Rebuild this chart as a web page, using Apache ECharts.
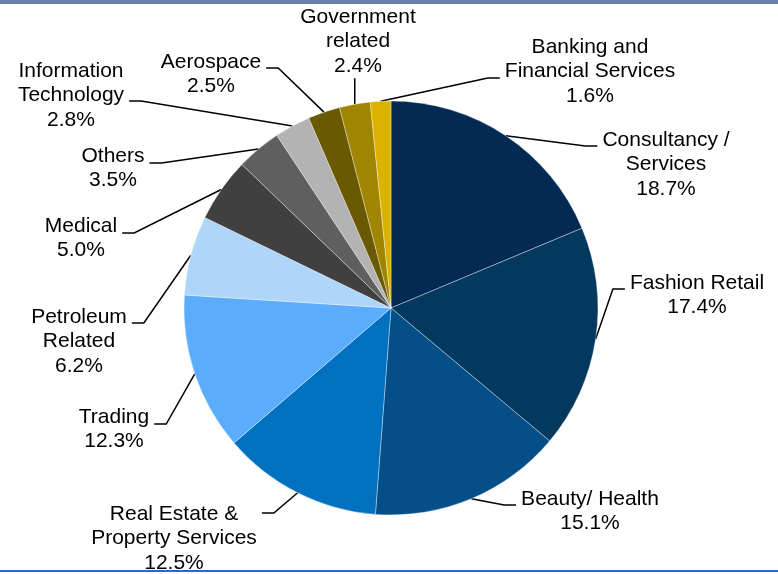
<!DOCTYPE html>
<html>
<head>
<meta charset="utf-8">
<script src="https://cdn.jsdelivr.net/npm/echarts@6.0.0/dist/echarts.min.js"></script>
<style>
  html, body { margin: 0; padding: 0; background: #ffffff; }
  #chart { width: 778px; height: 574px; }
</style>
</head>
<body>
<div id="chart"></div>
<script>
// Client sectors and their share of the total (%)
const sectors = [
  'Consultancy /\nServices',
  'Fashion Retail',
  'Beauty/ Health',
  'Real Estate &\nProperty Services',
  'Trading',
  'Petroleum\nRelated',
  'Medical',
  'Others',
  'Information\nTechnology',
  'Aerospace',
  'Government\nrelated',
  'Banking and\nFinancial Services'
];
const shares = [18.7, 17.4, 15.1, 12.5, 12.3, 6.2, 5.0, 3.5, 2.8, 2.5, 2.4, 1.6];

const sliceColors = [
  '#022a52', '#03385f', '#044f88', '#0070c0', '#5badfc', '#aed6fb',
  '#404040', '#5f5f5f', '#b3b3b3', '#695900', '#9f8500', '#dcb200'
];

const FONT_SIZE = 21;
const LINE_H = 24.5;

// Where each callout sits: centre x, centre y of its first line,
// the side its leader line enters from and the height of the leader's short horizontal run.
const labelSpots = [
  { cx: 666, y: 140, side: 'left',  ly: 146 },
  { cx: 697, y: 283, side: 'left',  ly: 289 },
  { cx: 590, y: 499, side: 'left',  ly: 505 },
  { cx: 174, y: 514, side: 'right', ly: 513 },
  { cx: 114, y: 417, side: 'right', ly: 424 },
  { cx: 79,  y: 317, side: 'right', ly: 323 },
  { cx: 81,  y: 226, side: 'right', ly: 233 },
  { cx: 113, y: 156, side: 'right', ly: 163 },
  { cx: 71,  y: 71,  side: 'right', ly: 101 },
  { cx: 211, y: 62,  side: 'right', ly: 68 },
  { cx: 358, y: 17,  side: 'bottom' },
  { cx: 590, y: 47,  side: 'left',  ly: 78 }
];

const PIE_CENTER = [391, 308];
const PIE_RADIUS = 207;

// Fallback anchor on the rim at the middle of a slice
function rimPoint(index) {
  const total = shares.reduce((a, b) => a + b, 0);
  let before = 0;
  for (let i = 0; i < index; i++) before += shares[i];
  const mid = (before + shares[index] / 2) / total * 2 * Math.PI;
  return [PIE_CENTER[0] + PIE_RADIUS * Math.sin(mid), PIE_CENTER[1] - PIE_RADIUS * Math.cos(mid)];
}

const chart = echarts.init(document.getElementById('chart'), null, { renderer: 'canvas' });

chart.setOption({
  animation: false,
  backgroundColor: '#ffffff',
  graphic: [
    { type: 'rect', left: 0, top: 0, shape: { width: 778, height: 4 }, style: { fill: '#6780ae' }, silent: true },
    { type: 'rect', left: 0, top: 570, shape: { width: 778, height: 2 }, style: { fill: '#1d6fc3' }, silent: true }
  ],
  series: [{
    type: 'pie',
    center: PIE_CENTER,
    radius: PIE_RADIUS,
    startAngle: 90,
    clockwise: true,
    avoidLabelOverlap: false,
    emphasis: { disabled: true },
    itemStyle: { borderColor: 'rgba(255,255,255,0.45)', borderWidth: 0.8 },
    label: {
      show: true,
      position: 'outside',
      formatter: p => p.name + '\n' + p.value.toFixed(1) + '%',
      fontFamily: '"Liberation Sans", Arial, sans-serif',
      fontSize: FONT_SIZE,
      lineHeight: LINE_H,
      color: '#000000',
      align: 'center'
    },
    labelLine: {
      show: true,
      length: 10,
      length2: 10,
      smooth: false,
      lineStyle: { color: '#000000', width: 1.5 }
    },
    labelLayout: function (p) {
      const s = labelSpots[p.dataIndex];
      const w = p.labelRect.width;
      const h = p.labelRect.height;
      const top = s.y - LINE_H / 2;
      const anchor = (p.labelLinePoints && p.labelLinePoints[0]) || rimPoint(p.dataIndex);
      let pts;
      if (s.side === 'bottom') {
        const bottomY = top + h;
        pts = [anchor, [anchor[0], bottomY], [anchor[0], bottomY]];
      } else {
        const edge = s.side === 'left' ? s.cx - w / 2 - 5 : s.cx + w / 2 + 5;
        const bend = s.side === 'left' ? edge - 12 : edge + 12;
        pts = [anchor, [bend, s.ly], [edge, s.ly]];
      }
      return {
        x: s.cx,
        y: top,
        align: 'center',
        verticalAlign: 'top',
        labelLinePoints: pts
      };
    },
    data: sectors.map((name, i) => ({
      name: name,
      value: shares[i],
      itemStyle: { color: sliceColors[i] }
    }))
  }]
});
</script>
</body>
</html>
